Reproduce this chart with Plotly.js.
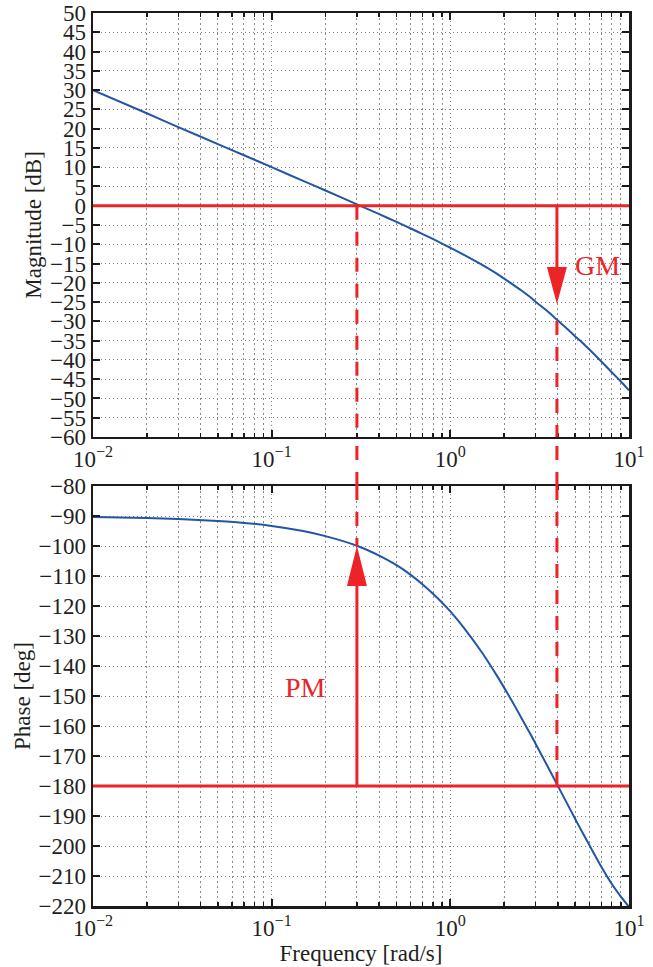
<!DOCTYPE html>
<html><head><meta charset="utf-8">
<script src="https://cdn.plot.ly/plotly-3.0.1.min.js"></script>
<style>html,body{margin:0;padding:0;background:#fff}#chart{width:653px;height:967px}</style>
</head><body><div id="chart"></div>
<script>
// ---- data ----
const freq        = [0.01, 0.02, 0.03, 0.05, 0.07, 0.1, 0.15, 0.2, 0.3, 0.4, 0.5, 0.6, 0.7, 0.85, 1, 1.2, 1.5, 1.8, 2, 2.2, 2.5, 2.8, 3, 3.5, 4, 4.5, 5, 5.5, 6, 7, 8, 9, 10];
const magnitudeDb = [30.0, 24.0, 20.4, 16.0, 13.1, 10.0, 6.45, 3.94, 0.37, -2.2, -4.2, -5.9, -7.35, -9.25, -10.9, -12.8, -15.3, -17.5, -18.9, -20.2, -22.0, -23.7, -24.9, -27.4, -29.8, -31.9, -33.9, -35.6, -37.3, -40.4, -43.2, -45.6, -47.9];
const phaseDeg    = [-90.3, -90.7, -91.0, -91.7, -92.3, -93.3, -95.0, -96.7, -99.9, -103.2, -106.4, -109.6, -112.8, -117.4, -121.8, -127.5, -135.4, -142.7, -147.2, -151.4, -157.3, -162.6, -165.9, -173.4, -180.0, -185.8, -191.0, -195.6, -199.7, -206.9, -212.6, -216.9, -220.3];

const gainCrossoverFreq  = 0.3;    // rad/s, |G| = 0 dB
const phaseAtGainCross   = -100;   // deg
const phaseCrossoverFreq = 3.95;   // rad/s, phase = -180
const magAtPhaseCross    = -29.9;  // dB
const refMagDb   = 0;
const refPhase   = -180;

const xTickVals  = [0.01, 0.1, 1, 10];
const xTickText  = ['10<sup>−2</sup>', '10<sup>−1</sup>', '10<sup>0</sup>', '10<sup>1</sup>'];
const xMinorVals = [0.02,0.03,0.04,0.05,0.06,0.07,0.08,0.09,0.2,0.3,0.4,0.5,0.6,0.7,0.8,0.9,2,3,4,5,6,7,8,9];

// ---- styling ----
const RED = '#ec2327', BLUE = '#2255a4', INK = '#1c1a1a', TXT = '#231f20';
const FONT = 'Liberation Serif, Times New Roman, serif';
const topDomain = [0.5252, 1];
const botDomain = [0, 0.4703];

function xAxis(anchor, withTitle) {
  const a = {
    type: 'log', range: [-2, 1], anchor: anchor,
    showline: true, mirror: 'ticks', linecolor: INK, linewidth: 2.5,
    ticks: 'inside', ticklen: 7, tickwidth: 2, tickcolor: INK,
    tickmode: 'array', tickvals: xTickVals, ticktext: xTickText,
    showgrid: true, gridcolor: '#808080', gridwidth: 1, griddash: '1px,3px',
    minor: {tickmode: 'array', tickvals: xMinorVals, ticks: 'inside', ticklen: 4, tickwidth: 1.5, tickcolor: INK,
            showgrid: true, gridcolor: '#8a8a8a', gridwidth: 1, griddash: '2px,3px'},
    tickfont: {family: FONT, size: 23, color: TXT},
    zeroline: false, automargin: false
  };
  if (withTitle) a.title = {text: 'Frequency [rad/s]', font: {family: FONT, size: 23, color: TXT}, standoff: 4};
  return a;
}
function yAxis(anchor, domain, range, dtick, title) {
  return {
    anchor: anchor, domain: domain, range: range, dtick: dtick, tick0: 0,
    showline: true, mirror: 'ticks', linecolor: INK, linewidth: 2.5,
    ticks: 'inside', ticklen: 7, tickwidth: 2, tickcolor: INK,
    showgrid: true, gridcolor: '#808080', gridwidth: 1, griddash: '1px,3px',
    tickfont: {family: FONT, size: 23, color: TXT},
    title: {text: title, font: {family: FONT, size: 23, color: TXT}, standoff: 2},
    zeroline: false, automargin: false
  };
}

const traces = [
  {x: freq, y: magnitudeDb, xaxis: 'x', yaxis: 'y', type: 'scatter', mode: 'lines',
   line: {color: BLUE, width: 2, shape: 'spline', smoothing: 0.6}, hoverinfo: 'skip'},
  {x: freq, y: phaseDeg, xaxis: 'x2', yaxis: 'y2', type: 'scatter', mode: 'lines',
   line: {color: BLUE, width: 2, shape: 'spline', smoothing: 0.6}, hoverinfo: 'skip'}
];

const dash = '14px,12px';
const shapes = [
  // reference lines
  {type: 'line', xref: 'x domain', x0: 0, x1: 1, yref: 'y', y0: refMagDb, y1: refMagDb, line: {color: RED, width: 3}},
  {type: 'line', xref: 'x2 domain', x0: 0, x1: 1, yref: 'y2', y0: refPhase, y1: refPhase, line: {color: RED, width: 3}},
  // gain-crossover dashed line (top, gap, bottom)
  {type: 'line', xref: 'x', x0: gainCrossoverFreq, x1: gainCrossoverFreq, yref: 'y', y0: refMagDb, y1: -60, line: {color: RED, width: 3, dash: dash}},
  {type: 'line', xref: 'x', x0: gainCrossoverFreq, x1: gainCrossoverFreq, yref: 'paper', y0: botDomain[1], y1: topDomain[0], line: {color: RED, width: 3, dash: dash}},
  {type: 'line', xref: 'x2', x0: gainCrossoverFreq, x1: gainCrossoverFreq, yref: 'y2', y0: -80, y1: phaseAtGainCross, line: {color: RED, width: 3, dash: dash}},
  // PM arrow
  {type: 'line', xref: 'x2', x0: gainCrossoverFreq, x1: gainCrossoverFreq, yref: 'y2', y0: refPhase, y1: phaseAtGainCross - 8, line: {color: RED, width: 3}},
  {type: 'path', xref: 'x2', yref: 'y2', xsizemode: 'pixel', ysizemode: 'pixel',
   xanchor: gainCrossoverFreq, yanchor: phaseAtGainCross, path: 'M0,0 L-10,-40 L10,-40 Z', fillcolor: RED, line: {width: 0}},
  // phase-crossover dashed line (top, gap, bottom)
  {type: 'line', xref: 'x', x0: phaseCrossoverFreq, x1: phaseCrossoverFreq, yref: 'y', y0: magAtPhaseCross, y1: -60, line: {color: RED, width: 3, dash: dash}},
  {type: 'line', xref: 'x', x0: phaseCrossoverFreq, x1: phaseCrossoverFreq, yref: 'paper', y0: botDomain[1], y1: topDomain[0], line: {color: RED, width: 3, dash: dash}},
  {type: 'line', xref: 'x2', x0: phaseCrossoverFreq, x1: phaseCrossoverFreq, yref: 'y2', y0: -80, y1: refPhase, line: {color: RED, width: 3, dash: dash}},
  // GM arrow
  {type: 'line', xref: 'x', x0: phaseCrossoverFreq, x1: phaseCrossoverFreq, yref: 'y', y0: refMagDb, y1: magAtPhaseCross + 8, line: {color: RED, width: 3}},
  {type: 'path', xref: 'x', yref: 'y', xsizemode: 'pixel', ysizemode: 'pixel',
   xanchor: phaseCrossoverFreq, yanchor: magAtPhaseCross, path: 'M0,17 L-10,54 L10,54 Z', fillcolor: RED, line: {width: 0}}
];

const annotations = [
  {xref: 'x', yref: 'y', x: Math.log10(phaseCrossoverFreq), y: -15.4, xanchor: 'left', yanchor: 'middle', xshift: 16,
   text: 'GM', showarrow: false, font: {family: FONT, size: 28, color: RED}},
  {xref: 'x2', yref: 'y2', x: Math.log10(gainCrossoverFreq), y: -147.3, xanchor: 'right', yanchor: 'middle', xshift: -29,
   text: 'PM', showarrow: false, font: {family: FONT, size: 28, color: RED}}
];

const layout = {
  width: 653, height: 967,
  margin: {l: 93, r: 24, t: 13, b: 61, pad: 0},
  paper_bgcolor: '#ffffff', plot_bgcolor: '#ffffff',
  showlegend: false,
  xaxis: xAxis('y', false),
  yaxis: yAxis('x', topDomain, [-60, 50], 5, 'Magnitude [dB]'),
  xaxis2: xAxis('y2', true),
  yaxis2: yAxis('x2', botDomain, [-220, -80], 10, 'Phase [deg]'),
  shapes: shapes,
  annotations: annotations
};

Plotly.newPlot('chart', traces, layout, {staticPlot: true, displayModeBar: false});
</script>
</body></html>
